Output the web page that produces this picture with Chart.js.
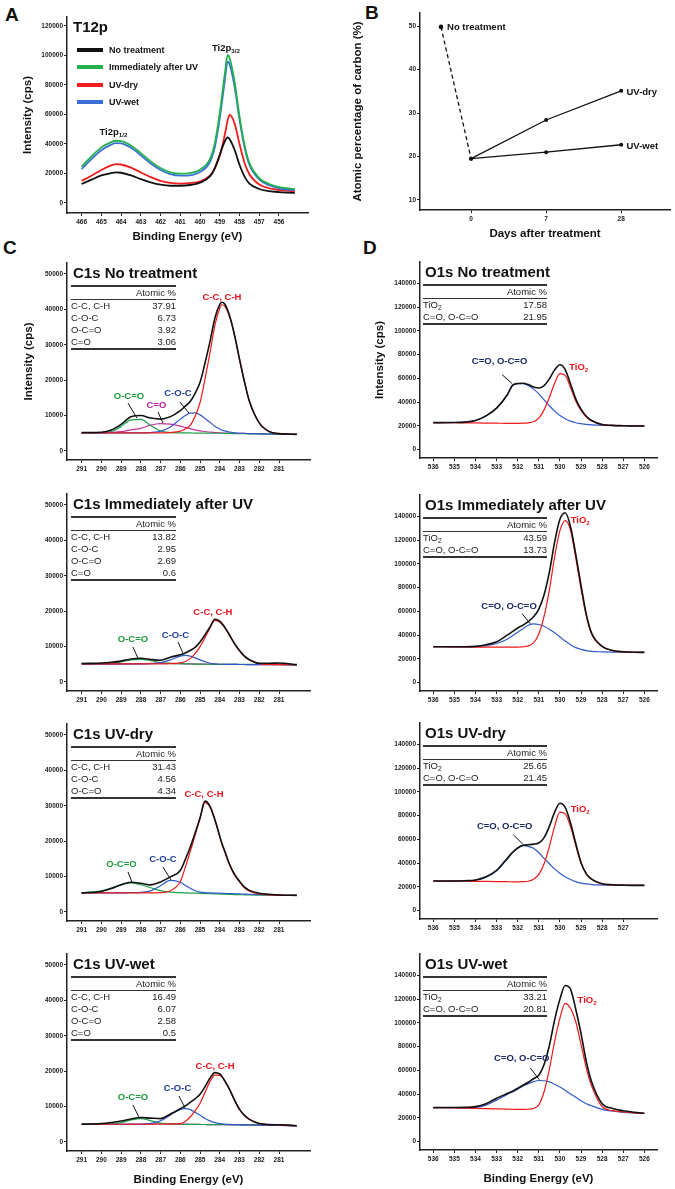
<html>
<head>
<title>XPS spectra and carbon content</title>
<script src="https://cdn.jsdelivr.net/npm/chart.js@4/dist/chart.umd.min.js"></script>
<style>
  body { margin: 0; width: 675px; height: 1189px; position: relative; overflow: hidden; background: #fff;
         font-family: "Liberation Sans", Arial, sans-serif; color: #111; }
  .tbl { position: absolute; font-size: 9.5px; border-top: 2px solid #333; border-bottom: 2px solid #333; color: #222; }
  .tbl .h { text-align: right; height: 12px; line-height: 12px; border-bottom: 1px solid #333; }
  .tbl .r { height: 12px; line-height: 12px; display: flex; justify-content: space-between; }
  sub { font-size: 70%; line-height: 0; vertical-align: -0.3em; }
</style>
<script>
// ---- data: panel A (Ti2p) ----
const tiEnergy = [466, 465.5, 465, 464.5, 464.25, 464, 463.5, 463, 462.5, 462, 461.5, 461, 460.5, 460, 459.5, 459.25, 459, 458.75, 458.6, 458.5, 458.25, 458, 457.75, 457.5, 457, 456.5, 456, 455.5, 455.2];
const tiNoTreatment = [12900, 15800, 18700, 20300, 20750, 20500, 18700, 16200, 14000, 12400, 11700, 11700, 12200, 13800, 18000, 23700, 32700, 41700, 44400, 43300, 36100, 25900, 18000, 13100, 9500, 8100, 7400, 7000, 6800];
const tiImmediate = [24800, 31600, 37700, 41300, 42200, 42000, 39000, 33800, 28200, 23700, 20800, 19900, 20300, 22600, 29800, 40600, 60900, 86900, 100400, 98100, 82300, 58700, 39500, 27100, 16900, 12900, 10800, 9900, 9500];
const tiUvDry = [15100, 18500, 22400, 25500, 26400, 26100, 24000, 20700, 17500, 15000, 13600, 13200, 13500, 14700, 18500, 23500, 32000, 46000, 56000, 59800, 54000, 40000, 27500, 19500, 12500, 10000, 8800, 8200, 7900];
const tiUvWet = [23000, 29800, 35800, 39600, 40600, 40400, 37400, 32300, 26800, 22400, 19500, 18500, 18800, 21000, 27800, 38000, 57500, 82500, 95900, 94000, 79000, 56500, 38000, 26000, 16000, 12000, 10000, 9000, 8600];
const tiLegend = ['No treatment', 'Immediately after UV', 'UV-dry', 'UV-wet'];
const tiTicks = [466, 465, 464, 463, 462, 461, 460, 459, 458, 457, 456];
const tiYTicks = [0, 20000, 40000, 60000, 80000, 100000, 120000];

// ---- data: panel B (carbon %) ----
const dayLabels = ['0', '7', '28'];
const carbonNoTreatment = 49.8;
const carbonUvDry = [19.5, 28.4, 35.1];
const carbonUvWet = [19.5, 21.0, 22.7];
const carbonTicks = [10, 20, 30, 40, 50];

// ---- data: panel C (C1s) ----
const c1sEnergy = [291, 290, 289.5, 289, 288.5, 288, 287.5, 287, 286.5, 286, 285.75, 285.5, 285.25, 285, 284.75, 284.5, 284.25, 284, 283.9, 283.75, 283.5, 283.25, 283, 282.75, 282.5, 282, 281.5, 281, 280.1];
const c1sTicks = [291, 290, 289, 288, 287, 286, 285, 284, 283, 282, 281];
const c1sYTicks = [0, 10000, 20000, 30000, 40000, 50000];

const c1sNoTotal = [5200, 5300, 5900, 7500, 9650, 10000, 9300, 9000, 9700, 11400, 12650, 14000, 16300, 19400, 24800, 30800, 37500, 41400, 42000, 41500, 38100, 32700, 25900, 19550, 14050, 7950, 5500, 4900, 4700];
const c1sNoCC = [5100, 5100, 5100, 5100, 5100, 5100, 5100, 5100, 5200, 5600, 6200, 7200, 9800, 13700, 20300, 27600, 35500, 40300, 41300, 40900, 37800, 32600, 25800, 19500, 14000, 7900, 5500, 4900, 4700];
const c1sNoCOC = [5100, 5100, 5100, 5100, 5100, 5100, 5200, 5600, 6800, 9000, 10000, 10700, 10750, 10200, 9200, 8100, 7000, 6200, 5900, 5700, 5300, 5100, 5000, 4950, 4900, 4850, 4800, 4750, 4700];
const c1sNoOCO = [5100, 5200, 5500, 6900, 8800, 8900, 7200, 5650, 5200, 5100, 5100, 5100, 5050, 5050, 5050, 5000, 5000, 5000, 5000, 4950, 4950, 4900, 4900, 4900, 4850, 4850, 4800, 4750, 4700];
const c1sNoCO = [5100, 5150, 5250, 5450, 5950, 6400, 7300, 7720, 7600, 7000, 6650, 6300, 5950, 5700, 5500, 5300, 5200, 5100, 5100, 5050, 5000, 5000, 4950, 4950, 4900, 4850, 4800, 4750, 4700];

const c1sImmTotal = [5200, 5350, 5550, 5900, 6500, 6700, 6350, 6150, 7000, 7700, 8200, 8900, 9800, 11300, 13300, 15500, 17700, 17200, 16600, 15500, 13200, 10800, 8900, 7300, 6300, 5300, 5300, 5350, 4900];
const c1sImmCC = [5100, 5100, 5100, 5100, 5100, 5100, 5100, 5100, 5150, 5400, 5800, 6600, 8000, 10000, 12500, 15200, 17400, 16900, 16300, 15300, 13100, 10700, 8800, 7200, 6200, 5200, 4950, 4900, 4850];
const c1sImmCOC = [5100, 5100, 5100, 5100, 5100, 5100, 5150, 5450, 6250, 7300, 7500, 7300, 6800, 6250, 5750, 5300, 5100, 5000, 5000, 4980, 4960, 4950, 4940, 4930, 4920, 4900, 4890, 4880, 4850];
const c1sImmOCO = [5150, 5150, 5300, 5650, 6250, 6400, 6050, 5500, 5250, 5150, 5100, 5080, 5060, 5040, 5020, 5000, 4990, 4980, 4980, 4970, 4960, 4950, 4950, 4950, 4950, 4950, 5100, 5150, 4850];
const c1sImmCO = [5050, 5050, 5060, 5080, 5120, 5180, 5250, 5280, 5250, 5180, 5140, 5100, 5080, 5060, 5040, 5020, 5000, 4990, 4980, 4970, 4960, 4950, 4940, 4930, 4920, 4900, 4890, 4880, 4850];

const c1sDryTotal = [5400, 5800, 6600, 7700, 8400, 8100, 7650, 8500, 9900, 11700, 14800, 18300, 22300, 26600, 31300, 29900, 26100, 21400, 19500, 17200, 13400, 10600, 8700, 7000, 6100, 5300, 5000, 4800, 4700];
const c1sDryCC = [5400, 5400, 5400, 5400, 5400, 5400, 5400, 5450, 6000, 8600, 12600, 17000, 21700, 26400, 30900, 29700, 25900, 21200, 19300, 17000, 13200, 10400, 8500, 6800, 5900, 5100, 4850, 4750, 4700];
const c1sDryCOC = [5400, 5400, 5400, 5400, 5450, 5550, 5950, 7400, 8900, 8400, 7550, 6700, 6000, 5600, 5450, 5400, 5350, 5300, 5280, 5250, 5200, 5150, 5100, 5050, 5000, 4900, 4800, 4750, 4700];
const c1sDryOCO = [5400, 5950, 6750, 7650, 8200, 7700, 6850, 6050, 5600, 5450, 5400, 5350, 5300, 5250, 5200, 5150, 5100, 5050, 5050, 5000, 4950, 4900, 4880, 4850, 4820, 4780, 4750, 4720, 4700];

const c1sWetTotal = [5000, 5200, 5500, 5900, 6500, 6900, 6750, 6600, 7900, 9400, 10200, 11200, 12200, 13500, 15600, 18000, 19600, 19200, 18600, 17300, 14800, 11800, 9200, 7500, 6400, 5200, 4900, 4850, 4600];
const c1sWetCC = [5000, 5000, 5000, 5000, 5000, 5000, 5000, 5000, 5100, 5200, 5800, 7050, 8800, 10950, 13950, 17050, 18900, 18800, 18400, 17250, 14800, 11800, 9200, 7500, 6400, 5200, 4900, 4850, 4600];
const c1sWetCOC = [5000, 5000, 5000, 5000, 5000, 5000, 5250, 6000, 7650, 9200, 9400, 9150, 8400, 7550, 6650, 5950, 5450, 5200, 5150, 5050, 4950, 4900, 4850, 4850, 4800, 4750, 4700, 4700, 4600];
const c1sWetOCO = [5000, 5050, 5100, 5450, 6200, 6600, 6050, 5350, 5100, 5000, 4980, 4960, 4950, 4940, 4930, 4920, 4910, 4900, 4900, 4890, 4880, 4870, 4860, 4850, 4850, 4820, 4850, 4900, 4600];
const c1sWetCO = [4950, 4950, 4960, 4980, 5020, 5080, 5130, 5150, 5120, 5060, 5020, 4990, 4970, 4950, 4930, 4920, 4900, 4880, 4870, 4860, 4840, 4820, 4800, 4780, 4760, 4720, 4700, 4680, 4600];

const c1sNoTable = [['C-C, C-H', '37.91'], ['C-O-C', '6.73'], ['O-C=O', '3.92'], ['C=O', '3.06']];
const c1sImmTable = [['C-C, C-H', '13.82'], ['C-O-C', '2.95'], ['O-C=O', '2.69'], ['C=O', '0.6']];
const c1sDryTable = [['C-C, C-H', '31.43'], ['C-O-C', '4.56'], ['O-C=O', '4.34']];
const c1sWetTable = [['C-C, C-H', '16.49'], ['C-O-C', '6.07'], ['O-C=O', '2.58'], ['C=O', '0.5']];

// ---- data: panel D (O1s) ----
const o1sEnergy = [536, 535, 534.5, 534, 533.5, 533, 532.5, 532.25, 532, 531.75, 531.5, 531.25, 531, 530.75, 530.5, 530.25, 530, 529.75, 529.5, 529.25, 529, 528.75, 528.5, 528, 527.5, 527, 526.5, 526];
const o1sTicks = [536, 535, 534, 533, 532, 531, 530, 529, 528, 527, 526];
const o1sDryTicks = [536, 535, 534, 533, 532, 531, 530, 529, 528, 527];
const o1sYTicks = [0, 20000, 40000, 60000, 80000, 100000, 120000, 140000];

const o1sNoTotal = [22800, 22900, 23200, 24600, 28500, 35000, 46000, 54100, 55700, 55900, 54800, 52800, 51900, 54000, 59600, 67200, 71500, 67400, 55500, 42800, 34100, 28100, 24600, 21200, 20500, 20200, 20000, 20000];
const o1sNoTiO2 = [22800, 22700, 22600, 22500, 22400, 22300, 22200, 22200, 22200, 22300, 22600, 23500, 26500, 33500, 44000, 56000, 64000, 62500, 52500, 41000, 33000, 27500, 24300, 21100, 20500, 20200, 20000, 20000];
const o1sNoCO = [22800, 22900, 23200, 24600, 28500, 35000, 46000, 54000, 55500, 55500, 54000, 51000, 47000, 42000, 37000, 32500, 28700, 26000, 24000, 22700, 21900, 21300, 20900, 20500, 20300, 20200, 20000, 20000];

const o1sImmTotal = [30300, 30200, 30200, 30600, 32000, 34500, 40000, 43000, 46000, 48500, 51500, 55500, 62000, 74000, 93000, 118500, 137500, 143000, 131500, 108000, 82000, 57500, 41800, 30500, 27100, 26000, 25600, 25500];
const o1sImmTiO2 = [30300, 30200, 30100, 30000, 30000, 29900, 29900, 29900, 30000, 30200, 31000, 33500, 41000, 56000, 78000, 106000, 128000, 136500, 128500, 105000, 79000, 56000, 41000, 30500, 27000, 26000, 25600, 25500];
const o1sImmCO = [30300, 30200, 30100, 30400, 31200, 33000, 36500, 39500, 42500, 45500, 48300, 49500, 49000, 47500, 45000, 42000, 38500, 35000, 32000, 29500, 28000, 27000, 26400, 26000, 25800, 25700, 25600, 25500];

const o1sDryTotal = [25000, 25000, 25200, 25800, 28500, 34000, 44000, 49000, 52800, 55000, 55500, 56000, 57000, 61500, 71000, 83000, 90500, 87000, 74000, 56500, 40500, 31000, 26500, 22600, 21800, 21500, 21300, 21300];
const o1sDryTiO2 = [25000, 24900, 24800, 24700, 24600, 24500, 24400, 24300, 24300, 24400, 24800, 26500, 30500, 39500, 54000, 71000, 83000, 81500, 71000, 55000, 40000, 31000, 26500, 22500, 21700, 21400, 21300, 21300];
const o1sDryCO = [25000, 25000, 25200, 25600, 28200, 33500, 43500, 48800, 52500, 54700, 54200, 52500, 48800, 44000, 39500, 35000, 31500, 28500, 26300, 24500, 23200, 22500, 22000, 21600, 21500, 21400, 21300, 21300];

const o1sWetTotal = [28700, 28800, 28900, 29500, 32000, 36500, 40500, 42500, 45000, 47500, 50000, 53000, 56000, 65000, 81000, 102500, 120000, 131500, 128500, 111500, 91000, 67500, 50500, 32000, 28000, 26000, 24800, 23900];
const o1sWetTiO2 = [28700, 28400, 28200, 28000, 27800, 27600, 27400, 27300, 27200, 27200, 27300, 28000, 31000, 42000, 61000, 84500, 104000, 116500, 112300, 101000, 82000, 62000, 47000, 29500, 26100, 25000, 24200, 23900];
const o1sWetCO = [28700, 28600, 28600, 28900, 30800, 35000, 39800, 41900, 44200, 46800, 48900, 50600, 51500, 51300, 50300, 48400, 46000, 43200, 40200, 37400, 34500, 32000, 30200, 27200, 25600, 24700, 24200, 23900];

const o1sNoTable = [['TiO<sub>2</sub>', '17.58'], ['C=O, O-C=O', '21.95']];
const o1sImmTable = [['TiO<sub>2</sub>', '43.59'], ['C=O, O-C=O', '13.73']];
const o1sDryTable = [['TiO<sub>2</sub>', '25.65'], ['C=O, O-C=O', '21.45']];
const o1sWetTable = [['TiO<sub>2</sub>', '33.21'], ['C=O, O-C=O', '20.81']];

// colours
const BLACK = '#111', RED = '#f01818', BLUE = '#2f5ac8', GREEN = '#1ea04a', MAGENTA = '#c8329b';
const TXT_RED = '#e8141c', TXT_BLUE = '#1f3e9a', TXT_GREEN = '#1a9a3a', TXT_MAG = '#b5249a', TXT_NAVY = '#1a2766';

Chart.defaults.font.family = '"Liberation Sans", Arial, sans-serif';

function addCanvas(l, t, w, h) {
  const c = document.createElement('canvas');
  c.width = w; c.height = h;
  c.style.cssText = 'position:absolute;left:' + l + 'px;top:' + t + 'px;width:' + w + 'px;height:' + h + 'px';
  document.body.appendChild(c);
  return c;
}

function addText(html, l, t, css) {
  const d = document.createElement('div');
  d.innerHTML = html;
  d.style.cssText = 'position:absolute;left:' + l + 'px;top:' + t + 'px;white-space:nowrap;' + css;
  document.body.appendChild(d);
  return d;
}

function addTable(rows, l, t, w) {
  let html = '<div class="h">Atomic %</div>';
  rows.forEach(r => { html += '<div class="r"><span>' + r[0] + '</span><span>' + r[1] + '</span></div>'; });
  const d = addText(html, l, t, 'width:' + w + 'px;');
  d.className = 'tbl';
}

// labels and leader lines, placed in data coordinates
function notesPlugin(notes, leaders) {
  return {
    id: 'notes',
    afterDatasetsDraw(chart) {
      const ctx = chart.ctx, sx = chart.scales.x, sy = chart.scales.y;
      ctx.save();
      ctx.strokeStyle = '#111';
      ctx.lineWidth = 1;
      (leaders || []).forEach(l => {
        ctx.beginPath();
        ctx.moveTo(sx.getPixelForValue(l[0]), sy.getPixelForValue(l[1]));
        ctx.lineTo(sx.getPixelForValue(l[2]), sy.getPixelForValue(l[3]));
        ctx.stroke();
      });
      ctx.textBaseline = 'middle';
      ctx.textAlign = 'left';
      (notes || []).forEach(n => {
        const size = 9.5;
        const main = 'bold ' + size + 'px "Liberation Sans", Arial, sans-serif';
        const small = 'bold ' + (size * 0.65) + 'px "Liberation Sans", Arial, sans-serif';
        ctx.font = main;
        const w1 = ctx.measureText(n.text).width;
        ctx.font = small;
        const w2 = n.sub ? ctx.measureText(n.sub).width : 0;
        let x = sx.getPixelForValue(n.x);
        const y = sy.getPixelForValue(n.y);
        if (n.align !== 'left') x -= (w1 + w2) / 2;
        ctx.fillStyle = n.color || '#111';
        ctx.font = main;
        ctx.fillText(n.text, x, y);
        if (n.sub) { ctx.font = small; ctx.fillText(n.sub, x + w1, y + size * 0.3); }
      });
      ctx.restore();
    }
  };
}

function axis(o) {
  return {
    type: 'linear', min: o.min, max: o.max, reverse: !!o.reverse,
    afterBuildTicks: s => { s.ticks = o.ticks.map(v => ({ value: v })); },
    afterFit: s => { if (o.isX) s.height = o.size; else s.width = o.size; },
    grid: { drawOnChartArea: false, drawTicks: true, tickLength: 3, color: '#222', lineWidth: 1 },
    border: { display: true, color: '#222', width: 1.5 },
    ticks: { autoSkip: false, maxRotation: 0, padding: o.isX ? 2 : 1, color: '#222',
             font: { size: 6.5, weight: 'bold' }, callback: o.label || (v => String(v)) },
    title: { display: !!o.title, text: o.title || '', color: '#111', font: { size: 11.5, weight: 'bold' },
             padding: o.isX ? { top: 0, bottom: o.titlePad || 0 } : { top: o.titlePad || 0, bottom: 0 } }
  };
}

function spectrum(box, energies, series, xr, yr, extra) {
  const yw = extra.yw, xh = extra.xh || 20;
  const c = addCanvas(box.l - yw, box.t - 12, box.r - box.l + yw + 10, box.b - box.t + 12 + xh);
  new Chart(c, {
    type: 'line',
    data: {
      datasets: series.map(s => ({
        data: energies.map((e, i) => ({ x: e, y: s[0][i] })),
        borderColor: s[1], borderWidth: s[2], pointRadius: 0, fill: false,
        cubicInterpolationMode: 'monotone'
      }))
    },
    options: {
      responsive: false, animation: false, devicePixelRatio: 1, events: [],
      layout: { padding: { left: 0, top: 12, right: 10, bottom: 0 } },
      plugins: { legend: { display: false }, tooltip: { enabled: false } },
      scales: {
        x: axis({ isX: true, min: xr[0], max: xr[1], reverse: true, ticks: xr[2], size: xh, title: extra.xTitle, titlePad: extra.xPad }),
        y: axis({ min: yr[0], max: yr[1], ticks: yr[2], size: yw, title: extra.yTitle, titlePad: extra.yPad })
      }
    },
    plugins: [notesPlugin(extra.notes, extra.leaders)]
  });
}

function carbonChart(box) {
  const yw = 80, xh = 35;
  const c = addCanvas(box.l - yw, box.t - 12, box.r - box.l + yw + 10, box.b - box.t + 12 + xh);
  const line = (vals) => vals.map((v, i) => ({ x: i, y: v }));
  new Chart(c, {
    type: 'line',
    data: {
      datasets: [
        { data: [{ x: -0.4, y: carbonNoTreatment }, { x: 0, y: carbonUvDry[0] }], borderColor: BLACK, borderWidth: 1.3,
          borderDash: [4, 3], pointRadius: [2.3, 0], pointBackgroundColor: BLACK, pointBorderWidth: 0 },
        { data: line(carbonUvDry), borderColor: BLACK, borderWidth: 1.3, pointRadius: 2, pointBackgroundColor: BLACK, pointBorderWidth: 0 },
        { data: line(carbonUvWet), borderColor: BLACK, borderWidth: 1.3, pointRadius: 2, pointBackgroundColor: BLACK, pointBorderWidth: 0 }
      ]
    },
    options: {
      responsive: false, animation: false, devicePixelRatio: 1, events: [],
      layout: { padding: { left: 0, top: 12, right: 10, bottom: 0 } },
      plugins: { legend: { display: false }, tooltip: { enabled: false } },
      scales: {
        x: axis({ isX: true, min: -0.68, max: 2.65, ticks: [0, 1, 2], size: xh, label: v => dayLabels[v],
                  title: 'Days after treatment', titlePad: 4 }),
        y: axis({ min: 7.7, max: 53, ticks: carbonTicks, size: yw, title: 'Atomic percentage of carbon (%)', titlePad: 11 })
      }
    },
    plugins: [notesPlugin([
      { text: 'No treatment', x: -0.32, y: 49.8, align: 'left' },
      { text: 'UV-dry', x: 2.07, y: 34.8, align: 'left' },
      { text: 'UV-wet', x: 2.07, y: 22.4, align: 'left' }
    ], [])]
  });
}

function start() {
  const letter = 'font:bold 19px/22px "Liberation Sans",Arial,sans-serif;color:#111';
  const title = 'font:bold 15px/18px "Liberation Sans",Arial,sans-serif;color:#111';
  addText('A', 5, 4, letter);
  addText('B', 365, 2, letter);
  addText('C', 3, 237, letter);
  addText('D', 363, 237, letter);

  // ---- A ----
  const tiX = [454.53, 466.74, tiTicks], tiY = [-6780, 126100, tiYTicks];
  spectrum({ l: 67, t: 17, r: 308, b: 213 }, tiEnergy,
    [[tiNoTreatment, BLACK, 1.8], [tiImmediate, '#22b14c', 1.8], [tiUvWet, '#3a6fd8', 1.8], [tiUvDry, '#f41c1c', 1.8]],
    tiX, tiY,
    { yw: 67, xh: 35, yTitle: 'Intensity (cps)', yPad: 21, xTitle: 'Binding Energy (eV)', xPad: 4,
      notes: [{ text: 'Ti2p', sub: '3/2', x: 458.69, y: 105100 }, { text: 'Ti2p', sub: '1/2', x: 464.39, y: 48100 }] });
  addText('T12p', 73, 18, title);
  const legendColors = [BLACK, '#22b14c', '#f41c1c', '#3a6fd8'];
  const legendY = [50, 67, 85, 102];
  tiLegend.forEach((name, i) => {
    addText('', 77, legendY[i] - 2, 'width:26px;height:4px;background:' + legendColors[i]);
    addText(name, 109, legendY[i] - 6, 'font:bold 9px/12px "Liberation Sans",Arial,sans-serif;color:#111');
  });

  // ---- B ----
  carbonChart({ l: 420, t: 13, r: 670, b: 210 });

  // ---- C ----
  const cX = [279.43, 291.74, c1sTicks], cY = [-2550, 53100, c1sYTicks];
  const cBoxes = [{ l: 67, t: 263, r: 310, b: 460 }, { l: 67, t: 494, r: 310, b: 691 },
                  { l: 67, t: 724, r: 310, b: 921 }, { l: 67, t: 954, r: 310, b: 1151 }];
  const cc = (txt, x, y) => ({ text: txt, x: x, y: y, color: TXT_RED });
  spectrum(cBoxes[0], c1sEnergy,
    [[c1sNoTotal, BLACK, 1.6], [c1sNoCC, RED, 1.2], [c1sNoCOC, BLUE, 1.2], [c1sNoOCO, GREEN, 1.2], [c1sNoCO, MAGENTA, 1.2]],
    cX, cY,
    { yw: 67, yTitle: 'Intensity (cps)', yPad: 22,
      notes: [cc('C-C, C-H', 283.89, 43500), { text: 'C-O-C', x: 286.12, y: 16400, color: TXT_BLUE },
              { text: 'C=O', x: 287.21, y: 13000, color: TXT_MAG }, { text: 'O-C=O', x: 288.6, y: 15500, color: TXT_GREEN }],
      leaders: [[288.65, 13560, 288.2, 9320], [287.13, 11020, 286.88, 7900], [286.02, 13840, 285.56, 10700]] });
  spectrum(cBoxes[1], c1sEnergy,
    [[c1sImmTotal, BLACK, 1.6], [c1sImmCC, RED, 1.2], [c1sImmCOC, BLUE, 1.2], [c1sImmOCO, GREEN, 1.2], [c1sImmCO, MAGENTA, 1.2]],
    cX, cY,
    { yw: 67,
      notes: [cc('C-C, C-H', 284.35, 19800), { text: 'C-O-C', x: 286.25, y: 13300, color: TXT_BLUE },
              { text: 'O-C=O', x: 288.4, y: 12150, color: TXT_GREEN }],
      leaders: [[286.12, 11300, 285.87, 8200], [288.4, 9890, 288.15, 6780]] });
  spectrum(cBoxes[2], c1sEnergy,
    [[c1sDryTotal, BLACK, 1.6], [c1sDryCC, RED, 1.2], [c1sDryCOC, BLUE, 1.2], [c1sDryOCO, GREEN, 1.2]],
    cX, cY,
    { yw: 67,
      notes: [cc('C-C, C-H', 284.8, 33300), { text: 'C-O-C', x: 286.88, y: 14970, color: TXT_BLUE },
              { text: 'O-C=O', x: 288.98, y: 13560, color: TXT_GREEN }],
      leaders: [[286.88, 12700, 286.47, 9040], [288.65, 11300, 288.45, 8475]] });
  spectrum(cBoxes[3], c1sEnergy,
    [[c1sWetTotal, BLACK, 1.6], [c1sWetCC, RED, 1.2], [c1sWetCOC, BLUE, 1.2], [c1sWetOCO, GREEN, 1.2], [c1sWetCO, MAGENTA, 1.2]],
    cX, cY,
    { yw: 67, xh: 38, xTitle: 'Binding Energy (eV)', xPad: 2,
      notes: [cc('C-C, C-H', 284.24, 21470), { text: 'C-O-C', x: 286.14, y: 15250, color: TXT_BLUE },
              { text: 'O-C=O', x: 288.4, y: 12700, color: TXT_GREEN }],
      leaders: [[286.07, 13000, 285.76, 9600], [288.4, 10450, 288.1, 7060]] });
  const cTitles = ['C1s No treatment', 'C1s Immediately after UV', 'C1s UV-dry', 'C1s UV-wet'];
  const cTables = [c1sNoTable, c1sImmTable, c1sDryTable, c1sWetTable];
  cBoxes.forEach((b, i) => { addText(cTitles[i], 73, b.t + 1, title); addTable(cTables[i], 71, b.t + 22, 105); });

  // ---- D ----
  const oY = [-7000, 158000, o1sYTicks];
  const oBoxes = [{ l: 420, t: 262, r: 657, b: 458 }, { l: 420, t: 495, r: 657, b: 691 },
                  { l: 420, t: 723, r: 657, b: 919 }, { l: 420, t: 954, r: 657, b: 1150 }];
  const oNotes = (lx, ly, tx, ty) => [{ text: 'C=O, O-C=O', x: lx, y: ly, color: TXT_NAVY },
                                      { text: 'TiO', sub: '2', x: tx, y: ty, color: TXT_RED }];
  spectrum(oBoxes[0], o1sEnergy, [[o1sNoTotal, BLACK, 1.6], [o1sNoTiO2, RED, 1.2], [o1sNoCO, BLUE, 1.2]],
    [525.4, 536.63, o1sTicks], oY,
    { yw: 80, yTitle: 'Intensity (cps)', yPad: 33, notes: oNotes(532.86, 74100, 529.11, 69000),
      leaders: [[532.74, 63150, 532.26, 55600]] });
  spectrum(oBoxes[1], o1sEnergy, [[o1sImmTotal, BLACK, 1.6], [o1sImmTiO2, RED, 1.2], [o1sImmCO, BLUE, 1.2]],
    [525.4, 536.63, o1sTicks], oY,
    { yw: 80, notes: oNotes(532.41, 64000, 529.04, 136400), leaders: [[531.79, 58100, 531.41, 49700]] });
  spectrum(oBoxes[2], o1sEnergy, [[o1sDryTotal, BLACK, 1.6], [o1sDryTiO2, RED, 1.2], [o1sDryCO, BLUE, 1.2]],
    [525.4, 536.63, o1sDryTicks], oY,
    { yw: 80, notes: oNotes(532.62, 70700, 529.04, 85000), leaders: [[532.21, 64000, 531.74, 55600]] });
  spectrum(oBoxes[3], o1sEnergy, [[o1sWetTotal, BLACK, 1.6], [o1sWetTiO2, RED, 1.2], [o1sWetCO, BLUE, 1.2]],
    [525.4, 536.63, o1sTicks], oY,
    { yw: 80, xh: 38, xTitle: 'Binding Energy (eV)', xPad: 2, notes: oNotes(531.81, 69900, 528.71, 118700),
      leaders: [[531.41, 62300, 530.98, 52200]] });
  const oTitles = ['O1s No treatment', 'O1s Immediately after UV', 'O1s UV-dry', 'O1s UV-wet'];
  const oTables = [o1sNoTable, o1sImmTable, o1sDryTable, o1sWetTable];
  oBoxes.forEach((b, i) => { addText(oTitles[i], 425, b.t + 1, title); addTable(oTables[i], 423, b.t + 22, 124); });
}
</script>
</head>
<body onload="start()">
</body>
</html>
